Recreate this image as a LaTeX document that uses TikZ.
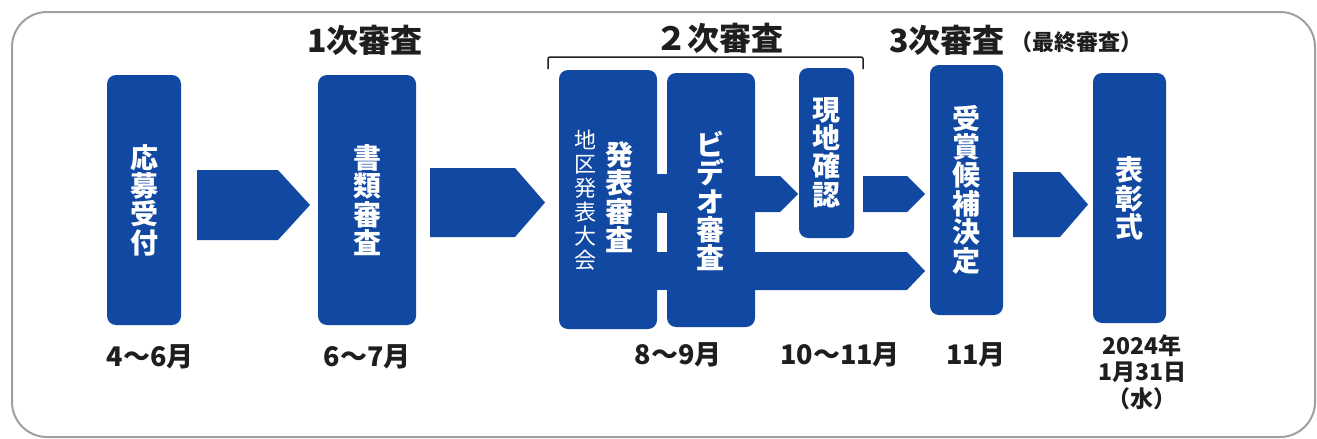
\documentclass[tikz,border=0pt]{standalone}
\usepackage{fontspec}
\setmainfont{Noto Sans CJK JP}
\definecolor{bl}{RGB}{16,72,162}
\definecolor{ink}{RGB}{30,30,30}
\begin{document}
\begin{tikzpicture}[x=1pt,y=-1pt,
  box/.style={fill=bl, rounded corners=9pt, inner sep=0pt, draw=none},
  vtext/.style={text=white, align=center, inner sep=0pt, font=\fontsize{28}{28.4}\selectfont\bfseries},
  vthin/.style={text=white, align=center, inner sep=0pt, font=\fontsize{22}{24}\selectfont},
  title/.style={text=ink, inner sep=0pt, font=\fontsize{32}{34}\selectfont\bfseries},
  date/.style={text=ink, inner sep=0pt, align=center, font=\fontsize{27}{28}\selectfont\bfseries},
  barrow/.style={fill=bl, draw=none}]
\useasboundingbox (0,0) rectangle (1317,439);
\draw[gray!75, line width=2pt, rounded corners=35pt] (12,12) rectangle (1315,437);

% boxes
\node[box, minimum width=74pt, minimum height=250pt] (b1) at (144,200) {};
\node[box, minimum width=98pt, minimum height=250pt] (b2) at (367,200) {};
\node[box, minimum width=98pt, minimum height=259pt] (b3) at (608,199.5) {};
\node[box, minimum width=88pt, minimum height=254pt] (b4) at (711,200) {};
\node[box, minimum width=55pt, minimum height=170pt] (b5) at (826.5,153) {};
\node[box, minimum width=73pt, minimum height=250pt] (b6) at (966.5,190) {};
\node[box, minimum width=73pt, minimum height=250pt] (b7) at (1129.5,198) {};

% connectors between b3 and b4
\fill[bl] (654,174) rectangle (670,213);
\fill[bl] (654,252) rectangle (670,290);

% block arrows
\fill[barrow] (197,170) -- (278,170) -- (310,205) -- (278,240) -- (197,240) -- cycle;
\fill[barrow] (430,168) -- (515,168) -- (545,202.5) -- (515,237) -- (430,237) -- cycle;
\fill[barrow] (750,176) -- (780,176) -- (798,194) -- (780,212) -- (750,212) -- cycle;
\fill[barrow] (863,176) -- (907,176) -- (925,194) -- (907,212) -- (863,212) -- cycle;
\fill[barrow] (750,252) -- (907,252) -- (925,271) -- (907,290) -- (750,290) -- cycle;
\fill[barrow] (1013,172) -- (1060,172) -- (1088,204.5) -- (1060,237) -- (1013,237) -- cycle;

% box texts
\node[vtext] (t1) at (b1.center) {応\\募\\受\\付};
\node[vtext] (t2) at (b2.center) {書\\類\\審\\査};
\node[vtext] (t3) at (619,197) {発\\表\\審\\査};
\node[vthin] (t3s) at (585,200) {地\\区\\発\\表\\大\\会};
\node[vtext] (t4) at (710,201) {ビ\\デ\\オ\\審\\査};
\node[vtext] (t5) at (826.5,152.5) {現\\地\\確\\認};
\node[vtext] (t6) at (966,189.5) {受\\賞\\候\\補\\決\\定};
\node[vtext] (t7) at (1129,198.5) {表\\彰\\式};

% bracket
\draw[ink, line width=1.5pt, rounded corners=2pt] (548,69) -- (548,57) -- (863,57) -- (863,69);

% titles
\node[title] (h1) at (365,40) {1次審査};
\node[title] (h2) at (719,38) {２次審査};
\node[title, anchor=west] (h3) at (889,40) {3次審査};
\node[text=ink, inner sep=0pt, anchor=west, font=\fontsize{22}{24}\selectfont\bfseries] (h3b) at (1010,42) {（最終審査）};

% dates
\node[date] (d1) at (150,357) {4〜6月};
\node[date] (d2) at (367,357) {6〜7月};
\node[date] (d3) at (678,355) {8〜9月};
\node[date] (d4) at (840,355) {10〜11月};
\node[date] (d5) at (976,355) {11月};
\node[date, font=\fontsize{23}{26.5}\selectfont\bfseries] (d6) at (1142,372) {2024年\\1月31日\\（水）};
\end{tikzpicture}
\end{document}
